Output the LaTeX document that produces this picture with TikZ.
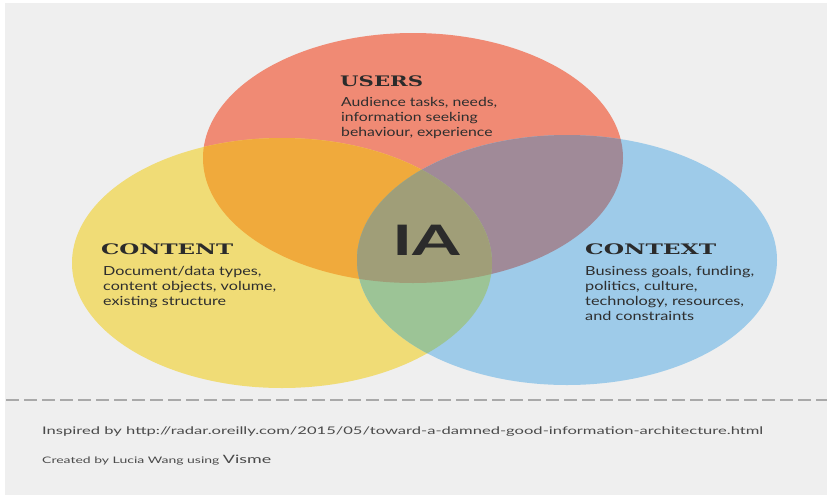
\documentclass[tikz,border=0pt]{standalone}
\usepackage{fontspec}
\setmainfont{Lato}
\newfontfamily\headfont{DejaVu Serif}
\usepackage{graphicx}
\definecolor{bggray}{HTML}{EFEFEF}
\definecolor{cred}{HTML}{F08A74}
\definecolor{cyel}{HTML}{F0DC76}
\definecolor{cblue}{HTML}{9ECBE9}
\definecolor{corange}{HTML}{F0AA3C}
\definecolor{cmauve}{HTML}{A08A98}
\definecolor{cgreen}{HTML}{9CC496}
\definecolor{colive}{HTML}{A09E78}
\definecolor{ctext}{HTML}{2B2B2B}
\definecolor{cbody}{HTML}{2E2E2E}
\definecolor{cfoot}{HTML}{4A4A4A}
\definecolor{cdash}{HTML}{A9A9A9}
\newcommand\fitw[2]{\resizebox{#1}{\height}{#2}}
\newcommand\textlines[1]{\begin{tabular}[t]{@{}l@{}}#1\end{tabular}}
\tikzset{
  headtxt/.style={anchor=base west, inner sep=0, text=ctext, font=\headfont\bfseries\fontsize{14.5}{16}\selectfont},
  bodytxt/.style={anchor=base west, inner sep=0, text=cbody, font=\fontsize{12.5}{15}\selectfont},
  foottxt/.style={anchor=base west, inner sep=0, text=cfoot},
  sepline/.style={draw=cdash, line width=2pt, dash pattern=on 13pt off 5pt},
}
\begin{document}
\begin{tikzpicture}[x=1pt,y=1pt]
\useasboundingbox (0,0) rectangle (827,-496);
\fill[white] (0,0) rectangle (827,-496);
\fill[bggray] (5,-3) rectangle (827,-495);
% circles
\fill[cred] (413,-158) ellipse [x radius=210, y radius=125];
\fill[cyel] (282,-263) ellipse [x radius=210, y radius=125];
\fill[cblue] (567,-260) ellipse [x radius=210, y radius=125];
\begin{scope}
  \clip (413,-158) ellipse [x radius=210, y radius=125];
  \fill[corange] (282,-263) ellipse [x radius=210, y radius=125];
\end{scope}
\begin{scope}
  \clip (413,-158) ellipse [x radius=210, y radius=125];
  \fill[cmauve] (567,-260) ellipse [x radius=210, y radius=125];
\end{scope}
\begin{scope}
  \clip (282,-263) ellipse [x radius=210, y radius=125];
  \fill[cgreen] (567,-260) ellipse [x radius=210, y radius=125];
\end{scope}
\begin{scope}
  \clip (413,-158) ellipse [x radius=210, y radius=125];
  \clip (282,-263) ellipse [x radius=210, y radius=125];
  \fill[colive] (567,-260) ellipse [x radius=210, y radius=125];
\end{scope}
% texts
\node[headtxt] (usersH) at (340,-86) {\fitw{83pt}{USERS}};
\node[bodytxt] (usersB) at (341,-106) {\fitw{156pt}{\textlines{Audience tasks, needs,\\information seeking\\behaviour, experience}}};
\node[headtxt] (contentH) at (101,-254) {\fitw{132pt}{CONTENT}};
\node[bodytxt] (contentB) at (103,-275) {\fitw{173pt}{\textlines{Document/data types,\\content objects, volume,\\existing structure}}};
\node[headtxt] (contextH) at (585,-254) {\fitw{131pt}{CONTEXT}};
\node[bodytxt] (contextB) at (585,-275) {\fitw{169pt}{\textlines{Business goals, funding,\\politics, culture,\\technology, resources,\\and constraints}}};
\node[anchor=base west, inner sep=0, text=ctext, font=\bfseries\fontsize{42}{42}\selectfont] (ia) at (392,-255) {\fitw{68pt}{IA}};
% separator
\coordinate (sepL) at (6,-400);
\coordinate (sepR) at (827,-400);
\draw[sepline] (sepL) -- (sepR);
% footer
\node[foottxt, font=\fontsize{10.5}{12}\selectfont] (inspired) at (42,-434) {\fitw{721pt}{Inspired by http://radar.oreilly.com/2015/05/toward-a-damned-good-information-architecture.html}};
\node[foottxt] (created) at (42,-463) {\fitw{229pt}{{\fontsize{9}{10}\selectfont Created by Lucia Wang using }{\fontsize{11.5}{12}\selectfont Visme}}};
\end{tikzpicture}
\end{document}
